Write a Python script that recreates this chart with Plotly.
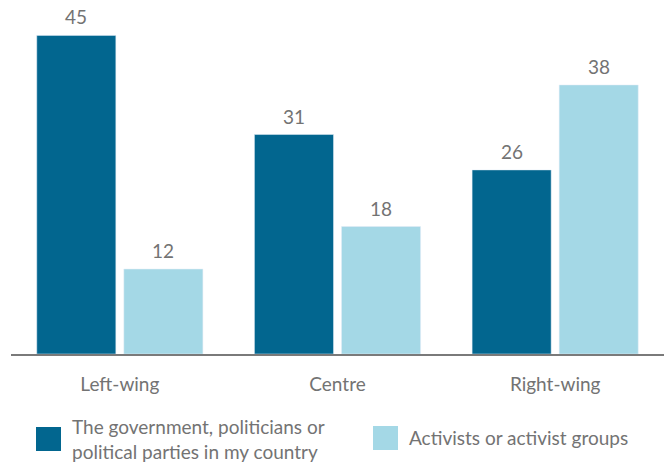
import plotly.graph_objects as go

# Survey results by political leaning (%)
categories = ["Left-wing", "Centre", "Right-wing"]
government = [45, 31, 26]
activists = [12, 18, 38]
series_labels = [
    "The government, politicians or<br>political parties in my country",
    "Activists or activist groups",
]

DARK = "#02668F"
LIGHT = "#A4D8E6"
TEXT = "#737373"
FONT = "Lato"

W, H = 667, 464
M_L, M_R, M_T, M_B = 11, 3, 0, 110
PW, PH = W - M_L - M_R, H - M_T - M_B


def px_x(x):
    return (x - M_L) / PW


def px_y(y):
    return (H - M_B - y) / PH


fig = go.Figure()
fig.add_bar(x=categories, y=government, marker_color=DARK, showlegend=False,
            name=series_labels[0].replace("<br>", " "), hoverinfo="name+x+y")
fig.add_bar(x=categories, y=activists, marker_color=LIGHT, showlegend=False,
            name=series_labels[1], hoverinfo="name+x+y")

# value labels above each bar
slot_px = 43.5
annotations = []
for vals, shift in ((government, -slot_px), (activists, slot_px)):
    for c, v in zip(categories, vals):
        annotations.append(dict(
            x=c, y=v, xref="x", yref="y", text=str(v), showarrow=False,
            xshift=shift, yanchor="bottom", yshift=5,
            font=dict(family=FONT, size=19, color=TEXT),
        ))

# custom legend: large square swatches with labels
legend_items = [
    (DARK, 36, 61, 427, 451, 70, series_labels[0], 439),
    (LIGHT, 373, 398, 426, 450, 407, series_labels[1], 437),
]
shapes = []
for color, x0, x1, y0, y1, tx, label, cy in legend_items:
    shapes.append(dict(type="rect", xref="paper", yref="paper",
                       x0=px_x(x0), x1=px_x(x1), y0=px_y(y1), y1=px_y(y0),
                       fillcolor=color, line=dict(width=0)))
    annotations.append(dict(
        x=px_x(tx), y=px_y(cy), xref="paper", yref="paper", text=label,
        showarrow=False, xanchor="left", yanchor="middle", align="left",
        font=dict(family=FONT, size=19, color=TEXT),
    ))

fig.update_layout(
    width=W, height=H,
    margin=dict(l=M_L, r=M_R, t=M_T, b=M_B),
    paper_bgcolor="white", plot_bgcolor="white",
    barmode="group", bargap=0.2, bargroupgap=0.092,
    font=dict(family=FONT, size=19, color=TEXT),
    annotations=annotations, shapes=shapes,
    xaxis=dict(showline=True, linecolor="#7a7a7a", linewidth=2,
               showgrid=False, ticks="", ticklabelstandoff=12,
               tickfont=dict(family=FONT, size=19, color=TEXT)),
    yaxis=dict(range=[0, 50], visible=False, showgrid=False),
)

fig.write_html("out.html")
